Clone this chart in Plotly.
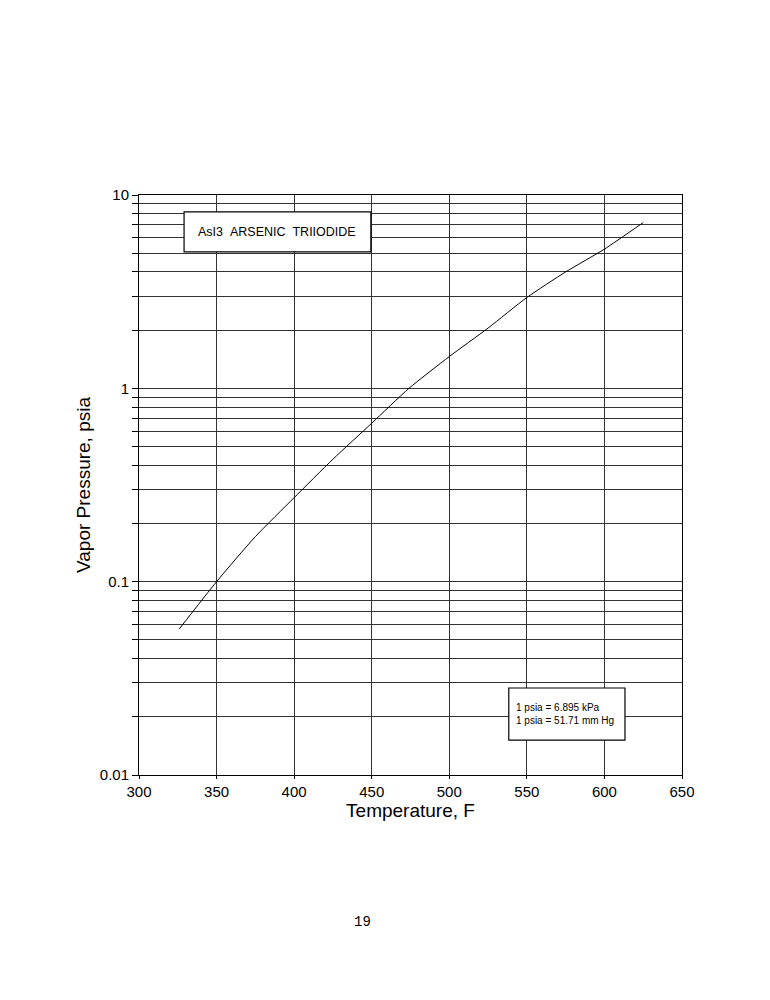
import plotly.graph_objects as go

# Vapor pressure curve
temp_f = [326, 350, 375, 400, 425, 450, 474, 500, 525, 550, 575, 600, 625]
psia = [0.057, 0.1, 0.171, 0.272, 0.43, 0.66, 1.0, 1.46, 2.05, 2.95, 4.0, 5.25, 7.2]

x_ticks = [300, 350, 400, 450, 500, 550, 600, 650]
decades = [0.01, 0.1, 1, 10]
decade_labels = ["0.01", "0.1", "1", "10"]

# every 1..9 line gets a grid line, only decades get a label
y_ticks = []
y_labels = []
for i, d in enumerate(decades[:-1]):
    for m in range(1, 10):
        y_ticks.append(d * m)
        y_labels.append(decade_labels[i] if m == 1 else "")
y_ticks.append(10)
y_labels.append("10")

title_text = "AsI3\u00a0\u00a0ARSENIC\u00a0\u00a0TRIIODIDE"
note_text = "1 psia = 6.895 kPa<br>1 psia = 51.71 mm Hg"

fig = go.Figure()
fig.add_trace(go.Scatter(x=temp_f, y=psia, mode="lines",
                         line=dict(color="black", width=1, shape="spline", smoothing=0.6),
                         showlegend=False))

font_main = "Liberation Sans, Arial, sans-serif"

fig.update_layout(
    width=770, height=1000,
    margin=dict(l=131, r=96, t=187, b=233),
    paper_bgcolor="white", plot_bgcolor="white",
    font=dict(family=font_main, color="black"),
    xaxis=dict(range=[300, 650], tickvals=x_ticks, ticks="outside", ticklen=3,
               tickcolor="black", tickfont=dict(size=15), showgrid=True,
               gridcolor="#333333", gridwidth=1, showline=True, linecolor="black",
               linewidth=1, mirror=True, zeroline=False,
               title=dict(text="Temperature, F", font=dict(size=19), standoff=0)),
    yaxis=dict(type="log", range=[-2, 1], tickvals=y_ticks, ticktext=y_labels,
               ticks="outside", ticklen=6, tickcolor="black", tickfont=dict(size=15),
               showgrid=True, gridcolor="#333333", gridwidth=1, showline=True,
               linecolor="black", linewidth=1, mirror=True, zeroline=False,
               title=dict(text="Vapor Pressure, psia", font=dict(size=19), standoff=4)),
)

# chart title box
fig.add_shape(type="rect", xref="paper", yref="paper", x0=0.083, x1=0.427,
              y0=0.902, y1=0.971, fillcolor="white", line=dict(color="black", width=1.2))
fig.add_annotation(xref="paper", yref="paper", x=0.255, y=0.9365, text=title_text,
                   showarrow=False, xanchor="center", yanchor="middle",
                   font=dict(size=12.5, family=font_main))

# conversion note box
fig.add_shape(type="rect", xref="paper", yref="paper", x0=0.681, x1=0.895,
              y0=0.06, y1=0.15, fillcolor="white", line=dict(color="black", width=1.2))
fig.add_annotation(xref="paper", yref="paper", x=0.69, y=0.105, text=note_text,
                   showarrow=False, xanchor="left", yanchor="middle", align="left",
                   font=dict(size=10, family=font_main))

# page number
fig.add_annotation(xref="paper", yref="paper", x=0.411, y=-0.253, text="19",
                   showarrow=False, xanchor="center", yanchor="middle",
                   font=dict(size=14, family="Liberation Mono, monospace"))

fig.write_html("out.html")
